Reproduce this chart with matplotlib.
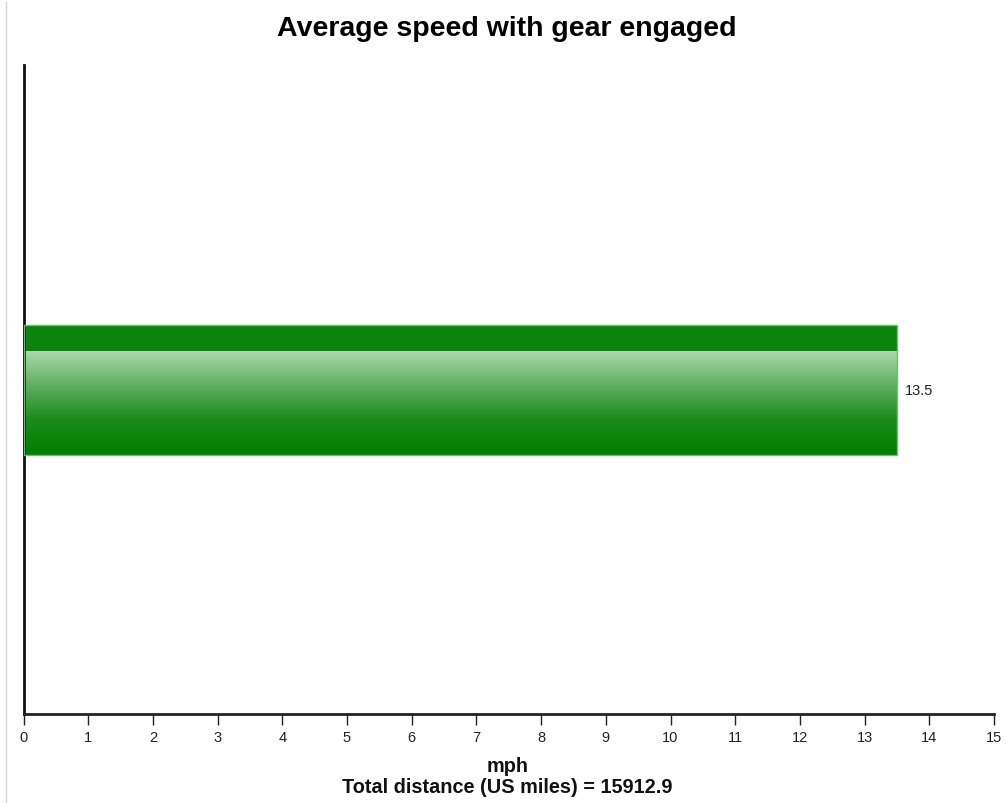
import matplotlib
matplotlib.use("Agg")
import matplotlib.pyplot as plt
import numpy as np
from matplotlib.colors import LinearSegmentedColormap
from matplotlib.lines import Line2D

plt.rcParams['font.family'] = ['Liberation Sans', 'DejaVu Sans']

categories = ["gear engaged"]
values = [13.5]
x_ticks = list(range(0, 16))
title = "Average speed with gear engaged"
xlabel = "mph"
subtitle = "Total distance (US miles) = 15912.9"

W, H = 1006, 804
fig = plt.figure(figsize=(W / 100, H / 100), dpi=100)
ax = fig.add_axes([23.5 / W, (H - 715) / H, (994 - 23.5) / W, (715 - 66) / H])

ax.set_xlim(0, 15)
ax.set_ylim(-2.5, 2.5)

bar_h = 1.0
cmap = LinearSegmentedColormap.from_list("g", ["#aad9aa", "#60ae60", "#1a8a1a", "#007f00"])
for i, (c, v) in enumerate(zip(categories, values)):
    y = i - 0.005
    ax.barh(y, v, height=bar_h, color="none", edgecolor="#6cbf6c", linewidth=1, zorder=3)
    y0, y1 = y - bar_h / 2, y + bar_h / 2
    band = 0.2 * bar_h
    ax.barh(y1 - band / 2, v, height=band, color="#0c830c", linewidth=0, zorder=2)
    grad = np.linspace(0, 1, 256).reshape(-1, 1)
    ax.imshow(grad, cmap=cmap, aspect="auto", extent=[0, v, y1 - band, y0],
              origin="lower", zorder=1, interpolation="bicubic")
    ax.text(v + 0.13, y, f"{v:g}", va="center", ha="left", fontsize=10.5, color="#222222")

ax.set_xticks(x_ticks)
ax.set_xticklabels([str(t) for t in x_ticks], fontsize=10.5, color="#222222")
ax.set_yticks([])
for s in ["top", "right"]:
    ax.spines[s].set_visible(False)
ax.spines["left"].set_linewidth(2)
ax.spines["left"].set_color("#111111")
ax.spines["bottom"].set_linewidth(2)
ax.spines["bottom"].set_color("#222222")
ax.tick_params(axis="x", length=8, width=1, color="#222222", pad=3.5)

fig.text(507 / W, 1 - 29 / H, title, ha="center", va="center", fontsize=20.5, fontweight="bold", color="#000000")
fig.text(508 / W, 1 - 767 / H, xlabel, ha="center", va="center", fontsize=14.3, fontweight="bold", color="#111111")
fig.text(507 / W, 1 - 788 / H, subtitle, ha="center", va="center", fontsize=14.3, fontweight="bold", color="#111111")

fig.add_artist(Line2D([5.5 / W, 5.5 / W], [0, 1 - 3 / H], transform=fig.transFigure, color="#d4d4d4", linewidth=1))

fig.savefig("out.png", dpi=100)
